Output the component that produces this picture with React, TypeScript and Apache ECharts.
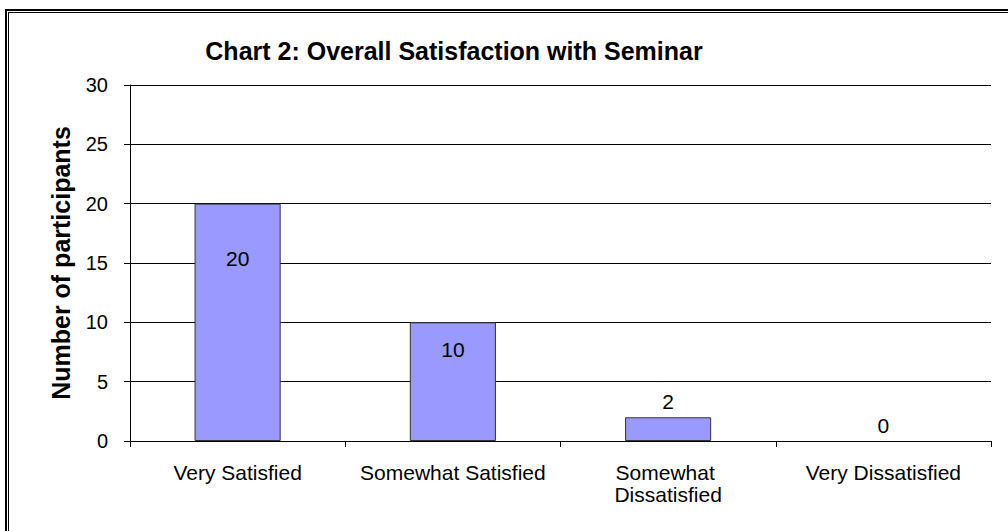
import React, { useEffect, useRef } from "react";
import * as echarts from "echarts";

const categories = ["Very Satisfied", "Somewhat Satisfied", "Somewhat Dissatisfied", "Very Dissatisfied"];
const values = [20, 10, 2, 0];
const yMin = 0;
const yMax = 30;
const yStep = 5;
const titleText = "Chart 2: Overall Satisfaction with Seminar";
const yAxisName = "Number of participants";

const FONT = "'Liberation Sans', Arial, sans-serif";

export default function App() {
  const ref = useRef<HTMLDivElement>(null);
  useEffect(() => {
    document.body.style.margin = "0";
    if (!ref.current) return;
    const chart = echarts.init(ref.current, undefined, { renderer: "svg" });
    const data = values.map((v) => {
      const item: any = { value: v };
      if (v >= 5) {
        item.label = { position: ["50%", "23%"], align: "center", verticalAlign: "middle" };
      } else {
        item.label = { position: "top", distance: 5 };
      }
      if (v === 0) item.itemStyle = { borderWidth: 0 };
      return item;
    });
    chart.setOption({
      animation: false,
      backgroundColor: "#ffffff",
      textStyle: { fontFamily: FONT },
      title: {
        text: titleText,
        left: 449,
        textAlign: "center",
        top: 33,
        textStyle: { fontFamily: FONT, fontSize: 25, fontWeight: "bold", color: "#000" },
      },
      graphic: [
        { type: "line", shape: { x1: 5, y1: 10, x2: 1008, y2: 10 }, style: { stroke: "#000", lineWidth: 2 } },
        { type: "line", shape: { x1: 6, y1: 9, x2: 6, y2: 531 }, style: { stroke: "#000", lineWidth: 2 } },
        { type: "line", shape: { x1: 9, y1: 12.5, x2: 1008, y2: 12.5 }, style: { stroke: "#000", lineWidth: 1 } },
        { type: "line", shape: { x1: 8.5, y1: 12, x2: 8.5, y2: 531 }, style: { stroke: "#000", lineWidth: 1 } },
      ],
      grid: { left: 130, top: 85, right: 17, bottom: 90 },
      xAxis: {
        type: "category",
        data: categories,
        boundaryGap: true,
        axisLine: { show: true, lineStyle: { color: "#000", width: 1 } },
        axisTick: { show: true, alignWithLabel: false, interval: 0, length: 6, lineStyle: { color: "#000" } },
        axisLabel: {
          interval: 0,
          margin: 20,
          fontFamily: FONT,
          fontSize: 21,
          color: "#000",
          lineHeight: 22,
          width: 200,
          overflow: "break",
        },
      },
      yAxis: {
        type: "value",
        min: yMin,
        max: yMax,
        interval: yStep,
        name: yAxisName,
        nameLocation: "middle",
        nameGap: 57,
        nameTextStyle: { fontFamily: FONT, fontSize: 25, fontWeight: "bold", color: "#000" },
        axisLine: { show: true, lineStyle: { color: "#000", width: 1 } },
        axisTick: { show: true, length: 6, lineStyle: { color: "#000" } },
        axisLabel: { margin: 22, fontFamily: FONT, fontSize: 20, color: "#000" },
        splitLine: { show: true, lineStyle: { color: "#000", width: 1 } },
      },
      series: [
        {
          type: "bar",
          data,
          barWidth: "40%",
          itemStyle: { color: "#9999ff", borderColor: "#333333", borderWidth: 1 },
          label: { show: true, fontFamily: FONT, fontSize: 21, color: "#000" },
        },
      ],
    });
    return () => chart.dispose();
  }, []);
  return <div ref={ref} style={{ width: 1008, height: 531 }} />;
}
